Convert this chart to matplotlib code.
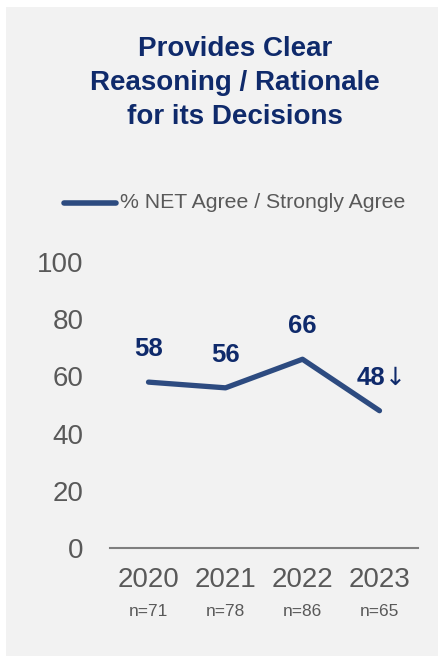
import matplotlib.pyplot as plt
from matplotlib.patches import Rectangle

plt.rcParams["font.family"] = ["Liberation Sans", "DejaVu Sans"]

# data
years = ["2020", "2021", "2022", "2023"]
n_sizes = ["n=71", "n=78", "n=86", "n=65"]
net_agree = [58, 56, 66, 48]
point_labels = ["58", "56", "66", "48"]
sig_marks = ["", "", "", "\u2193"]
y_ticks = [0, 20, 40, 60, 80, 100]

NAVY = "#0f2a6b"
LINE = "#2d4b80"
GRAY = "#595959"
BG = "#f2f2f2"

W, H = 438, 656
fig = plt.figure(figsize=(W / 100, H / 100), dpi=100)
fig.patch.set_facecolor("white")
fig.patches.append(Rectangle((6 / W, 0), 1, 1 - 7 / H, transform=fig.transFigure,
                             facecolor=BG, edgecolor="none", zorder=-5))

ax = fig.add_axes([110 / W, (H - 548) / H, 308 / W, (548 - 262) / H])
ax.set_facecolor("none")
x = list(range(len(years)))
ax.plot(x, net_agree, color=LINE, lw=3.8, solid_capstyle="round", solid_joinstyle="round")
ax.set_xlim(-0.5, 3.5)
ax.set_ylim(0, 100)

for xi, v, lab, mark in zip(x, net_agree, point_labels, sig_marks):
    if mark:
        ax.annotate(lab, (xi, v + 11.5), xytext=(-6, 0), textcoords="offset points",
                    ha="center", va="center", color=NAVY, fontsize=18.5, fontweight="bold")
        ax.annotate(mark, (xi, v + 11.5), xytext=(11.5, 0), textcoords="offset points",
                    ha="center", va="center", color=NAVY, fontsize=18,
                    family="DejaVu Sans")
    else:
        ax.text(xi, v + 11.5, lab, ha="center", va="center", color=NAVY,
                fontsize=18.5, fontweight="bold")

for s in ["top", "right", "left"]:
    ax.spines[s].set_visible(False)
ax.spines["bottom"].set_color("#7f7f7f")
ax.spines["bottom"].set_linewidth(1.5)
ax.set_yticks(y_ticks)
ax.set_xticks(x)
ax.set_xticklabels(years)
ax.tick_params(axis="y", length=0, pad=19, labelsize=20, labelcolor=GRAY)
ax.tick_params(axis="x", length=0, pad=14, labelsize=20, labelcolor=GRAY)

for xi, n in zip(x, n_sizes):
    ax.text(xi, -(612 - 548) / 286, n, transform=ax.get_xaxis_transform(), ha="center",
            va="center", fontsize=12.5, color=GRAY)

fig.text(235 / W, 1 - 83 / H, "Provides Clear\nReasoning / Rationale\nfor its Decisions",
         ha="center", va="center", fontsize=20, fontweight="bold", color=NAVY,
         linespacing=1.4)

# legend
fig.lines.append(plt.Line2D([64 / W, 116 / W], [1 - 203 / H, 1 - 203 / H],
                            transform=fig.transFigure, color=LINE, lw=4,
                            solid_capstyle="round"))
fig.text(120 / W, 1 - 203 / H, "% NET Agree / Strongly Agree", ha="left", va="center",
         fontsize=15.3, color=GRAY)

fig.savefig("out.png", dpi=100)
